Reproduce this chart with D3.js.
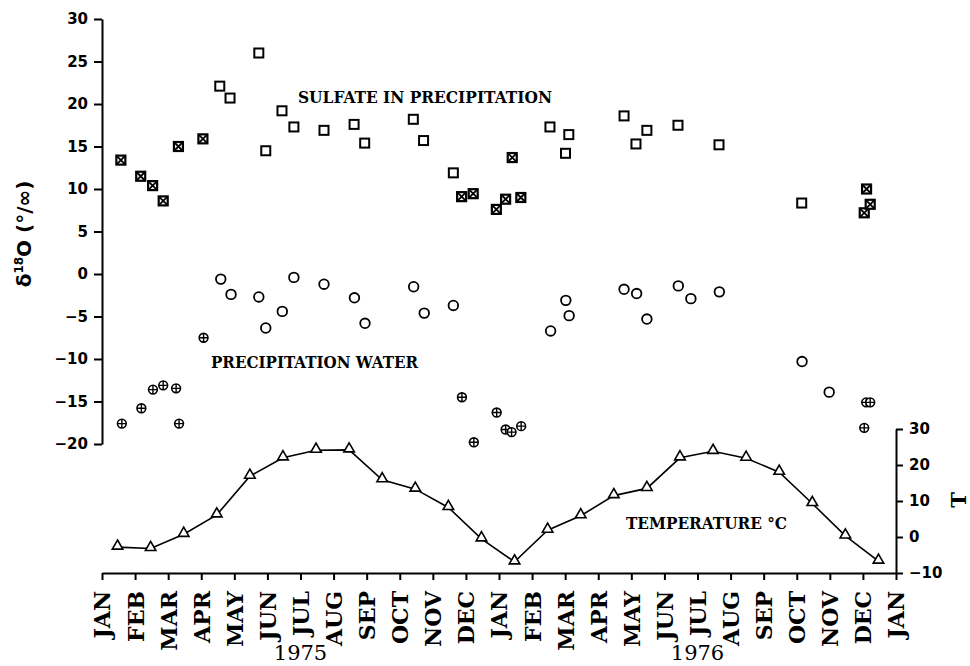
<!DOCTYPE html>
<html>
<head>
<meta charset="utf-8">
<script src="https://cdn.jsdelivr.net/npm/d3@7"></script>
<style>
  body { margin: 0; background: #fff; }
  .axis path, .axis line { stroke: #000; stroke-width: 2; }
  .axis text { font-family: "DejaVu Sans", sans-serif; font-weight: bold; font-size: 15px; fill: #000; }
  .month text { font-family: "DejaVu Serif", serif; font-size: 22px; }
  .note { font-family: "DejaVu Serif", serif; font-weight: bold; fill: #000; }
</style>
</head>
<body>
<div id="chart-area"></div>
<script>
// month positions are counted from 1 Jan 1975 (0 = JAN 1975, 24 = JAN 1977)
var monthLabels = ["JAN","FEB","MAR","APR","MAY","JUN","JUL","AUG","SEP","OCT","NOV","DEC",
                   "JAN","FEB","MAR","APR","MAY","JUN","JUL","AUG","SEP","OCT","NOV","DEC","JAN"];
var years = [["1975", 6], ["1976", 18]];

// sulfate in precipitation, open squares [month, d18O]
var sulfateOpen = [[3.56,22.1],[3.87,20.7],[4.74,26.0],[4.95,14.5],[5.44,19.2],[5.80,17.3],
  [6.71,16.9],[7.62,17.6],[7.94,15.4],[9.41,18.2],[9.72,15.7],[10.62,11.9],[13.54,17.3],
  [14.01,14.2],[14.11,16.4],[15.78,18.6],[16.14,15.3],[16.47,16.9],[17.41,17.5],[18.65,15.2],
  [21.15,8.35]];
// sulfate, crossed squares
var sulfateCrossed = [[0.57,13.4],[1.17,11.5],[1.53,10.4],[1.85,8.6],[2.31,15.0],[3.05,15.9],
  [10.87,9.1],[11.22,9.45],[11.92,7.6],[12.20,8.8],[12.40,13.7],[12.66,9.0],
  [23.04,7.2],[23.11,10.0],[23.22,8.2]];
// precipitation water, open circles
var waterOpen = [[3.59,-0.6],[3.90,-2.4],[4.74,-2.7],[4.95,-6.35],[5.45,-4.4],[5.80,-0.4],
  [6.71,-1.2],[7.63,-2.8],[7.95,-5.8],[9.42,-1.5],[9.74,-4.6],[10.62,-3.7],[13.56,-6.7],
  [14.02,-3.1],[14.12,-4.9],[15.78,-1.8],[16.16,-2.3],[16.47,-5.3],[17.42,-1.4],[17.80,-2.9],
  [18.66,-2.1],[21.16,-10.3],[21.98,-13.9]];
// precipitation water, crossed circles
var waterCrossed = [[0.60,-17.6],[1.19,-15.8],[1.54,-13.6],[1.85,-13.1],[2.24,-13.45],[2.33,-17.6],
  [3.07,-7.5],[10.88,-14.5],[11.24,-19.8],[11.93,-16.3],[12.20,-18.3],[12.38,-18.6],[12.67,-17.9],
  [23.04,-18.1],[23.10,-15.1],[23.22,-15.1]];
// monthly mean temperature (deg C), Jan 1975 .. Dec 1976
var temperature = [-2.8,-3.2,0.75,6.15,16.9,22.0,24.1,24.2,15.9,13.3,8.2,-0.5,
                   -6.9,1.9,5.9,11.5,13.5,22.0,23.8,21.9,18.0,9.3,0.3,-6.7];

var margin = {top: 19, right: 74, bottom: 93, left: 102},
    width = 970 - margin.left - margin.right,
    height = 666 - margin.top - margin.bottom;

var svg = d3.select("#chart-area")
    .append("svg")
    .attr("width", 970)
    .attr("height", 666)
    .append("g")
    .attr("transform", "translate(" + margin.left + "," + margin.top + ")");

var axisY = 554; // bottom time axis
var x = d3.scaleLinear().domain([0, 24]).range([0, width]);
var band = d3.scaleBand().domain(d3.range(24)).range([0, width]);
var y = d3.scaleLinear().domain([-20, 30]).range([425, 0]);
var yT = d3.scaleLinear().domain([-10, 30]).range([axisY, 410]);

// left axis
svg.append("g")
    .attr("class", "axis")
    .call(d3.axisLeft(y).tickValues(d3.range(-20, 31, 5)).tickSize(8).tickSizeOuter(0).tickPadding(6));

// right temperature axis
svg.append("g")
    .attr("class", "axis")
    .attr("transform", "translate(" + width + ",0)")
    .call(d3.axisRight(yT).tickValues([-10, 0, 10, 20, 30]).tickSize(7).tickSizeOuter(0).tickPadding(6));

// bottom month axis
var xAxis = svg.append("g")
    .attr("class", "axis month")
    .attr("transform", "translate(0," + axisY + ")")
    .call(d3.axisBottom(x).tickValues(d3.range(25)).tickSize(7).tickSizeOuter(0)
        .tickFormat(function(i) { return monthLabels[i]; }));
xAxis.selectAll("text")
    .attr("transform", "rotate(-90)")
    .attr("x", -18)
    .attr("y", 0)
    .attr("dy", "0.36em")
    .style("text-anchor", "end")
    .style("font-family", "'DejaVu Serif', serif");

svg.selectAll(".year")
    .data(years)
    .enter().append("text")
    .attr("class", "year")
    .attr("x", function(d) { return x(d[1]); })
    .attr("y", 641)
    .attr("text-anchor", "middle")
    .style("font-family", "'DejaVu Serif', serif")
    .style("font-size", "21px")
    .text(function(d) { return d[0]; });

// temperature line with triangles
var tx = function(d, i) { return band(i) + band.bandwidth() / 2 - 1; };
svg.append("path")
    .datum(temperature)
    .attr("fill", "none")
    .attr("stroke", "#000")
    .attr("stroke-width", 1.6)
    .attr("d", d3.line().x(tx).y(function(d) { return yT(d); }));
var tri = d3.symbol().type(d3.symbolTriangle).size(48);
svg.selectAll(".tri")
    .data(temperature)
    .enter().append("path")
    .attr("d", tri)
    .attr("transform", function(d, i) { return "translate(" + tx(d, i) + "," + (yT(d) - 1) + ")"; })
    .attr("fill", "#fff")
    .attr("stroke", "#000")
    .attr("stroke-width", 1.6);

// open squares
svg.selectAll(".sq")
    .data(sulfateOpen)
    .enter().append("rect")
    .attr("x", function(d) { return x(d[0]) - 4.5; })
    .attr("y", function(d) { return y(d[1]) - 4.5; })
    .attr("width", 9).attr("height", 9)
    .attr("fill", "#fff").attr("stroke", "#000").attr("stroke-width", 2);

// crossed squares
var cs = svg.selectAll(".csq")
    .data(sulfateCrossed)
    .enter().append("g")
    .attr("transform", function(d) { return "translate(" + x(d[0]) + "," + y(d[1]) + ")"; });
cs.append("rect")
    .attr("x", -4.5).attr("y", -4.5).attr("width", 9).attr("height", 9)
    .attr("fill", "#fff").attr("stroke", "#000").attr("stroke-width", 2.2);
cs.append("path")
    .attr("d", "M-4,-4L4,4M4,-4L-4,4")
    .attr("stroke", "#000").attr("stroke-width", 1.8);

// open circles
svg.selectAll(".ci")
    .data(waterOpen)
    .enter().append("circle")
    .attr("cx", function(d) { return x(d[0]); })
    .attr("cy", function(d) { return y(d[1]); })
    .attr("r", 4.8)
    .attr("fill", "#fff").attr("stroke", "#000").attr("stroke-width", 1.8);

// crossed circles
var cc = svg.selectAll(".cci")
    .data(waterCrossed)
    .enter().append("g")
    .attr("transform", function(d) { return "translate(" + x(d[0]) + "," + y(d[1]) + ")"; });
cc.append("circle")
    .attr("r", 4.4)
    .attr("fill", "#fff").attr("stroke", "#000").attr("stroke-width", 1.6);
cc.append("path")
    .attr("d", "M-4.4,0H4.4M0,-4.4V4.4")
    .attr("stroke", "#000").attr("stroke-width", 1.4);

// annotations (absolute page coordinates)
var notes = svg.append("g").attr("transform", "translate(" + (-margin.left) + "," + (-margin.top) + ")");
notes.append("text").attr("class", "note")
    .attr("x", 298).attr("y", 103).attr("textLength", 254).attr("lengthAdjust", "spacingAndGlyphs")
    .style("font-size", "16px").text("SULFATE  IN  PRECIPITATION");
notes.append("text").attr("class", "note")
    .attr("x", 211).attr("y", 368).attr("textLength", 207).attr("lengthAdjust", "spacingAndGlyphs")
    .style("font-size", "17px").text("PRECIPITATION  WATER");
notes.append("text").attr("class", "note")
    .attr("x", 626).attr("y", 529).attr("textLength", 161).attr("lengthAdjust", "spacingAndGlyphs")
    .style("font-size", "16px").text("TEMPERATURE  °C");

// y axis title
var yl = notes.append("text")
    .attr("transform", "translate(31,234) rotate(-90)")
    .attr("text-anchor", "middle")
    .style("font-family", "'DejaVu Sans', sans-serif")
    .style("font-weight", "bold")
    .style("font-size", "20px");
yl.append("tspan").text("δ");
yl.append("tspan").attr("dy", -8).style("font-size", "12px").text("18");
yl.append("tspan").attr("dy", 8).text("O (°/∞)");

notes.append("text")
    .attr("transform", "translate(966,500) rotate(-90)")
    .attr("text-anchor", "middle")
    .style("font-family", "'DejaVu Serif', serif")
    .style("font-weight", "bold")
    .style("font-size", "21px")
    .text("T");
</script>
</body>
</html>
